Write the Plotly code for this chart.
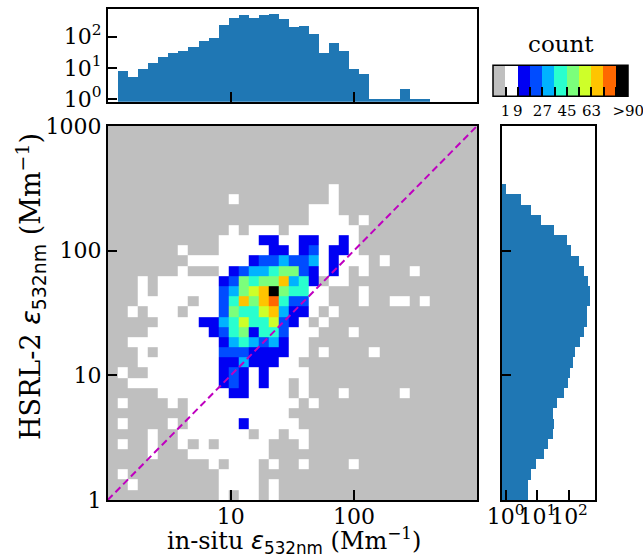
import numpy as np
import plotly.graph_objects as go

W, H = 643, 556

# ---------------- data ----------------
N_BINS = 37            # log-spaced bins per axis
BIN_WIDTH_DEX = 0.0817 # bin width in decades

# 2-D histogram, one character per cell (colour class),
# rows listed from the top (largest HSRL-2 value) down, columns left -> right.
GRID_ROWS_TOP_DOWN = [
    ".........." ".........." ".........." ".......",  # k=36
    ".........." ".........." ".........." ".......",  # k=35
    ".........." ".........." ".........." ".......",  # k=34
    ".........." ".........." ".........." ".......",  # k=33
    ".........." ".........." ".........." ".......",  # k=32
    ".........." ".........." ".........." ".......",  # k=31
    ".........." ".........." "..w......." ".......",  # k=30
    ".........." "..w......." "..w......." ".......",  # k=29
    ".........." ".........." "www......." ".......",  # k=28
    ".........." ".........." "wwww.w...." ".......",  # k=27
    ".........." "..w.www.ww" "wwwww....." ".......",  # k=26
    ".........." ".wwwwbbwwb" "bwwbw....." ".......",  # k=25
    ".......w.." ".wwwwwbbwb" "mwbbw....." ".......",  # k=24
    "........ww" "wwwwbmmsmm" "swbwww.w.." ".......",  # k=23
    ".......w.." ".wbmssaggm" "bwbw.w...." "w......",  # k=22
    "...w.wwwww" "wbmgaggosa" "b.ww......" ".......",  # k=21
    "...w.wwwww" "wmsgyokgaa" "ww...w...." ".......",  # k=20
    "...wwwww.w" "wmaogoramm" "ww...w..ww" ".w.....",  # k=19
    "..w.www.ww" "wmgaayosbb" "w.w......." ".......",  # k=18
    ".....wwwwb" "bsayaaymbw" ".w........" ".......",  # k=17
    "....wwwwww" "bmagbaamww" "w...w....." ".......",  # k=16
    "..wwwwwwww" "wbsasmsbww" ".........." ".......",  # k=15
    "...w.wwwww" "wmmmbbbbww" ".w....w..." ".......",  # k=14
    "...wwwwwww" "wbbsbbbww." ".........." ".......",  # k=13
    ".w..wwwwww" "wbmbwbwwww" ".........." ".......",  # k=12
    "..wwwwwwww" "wbmbwbww.w" ".........." ".......",  # k=11
    ".....wwwww" "wwbbwwww.w" "...w.....w" ".......",  # k=10
    ".w....w.ww" "wwwwwwwww." "w........." ".......",  # k=9
    "........ww" "wwwwwwww.." ".........." ".......",  # k=8
    ".w....w.ww" "wwwbwwwww." ".........." ".......",  # k=7
    "....w..www" "wwww.ww.ww" ".........." ".......",  # k=6
    ".w..w..w.w" ".wwwww...w" ".........." ".......",  # k=5
    "....w...ww" "wwwwww...." ".........." ".......",  # k=4
    ".........." "w.www.w..w" "....w....." ".......",  # k=3
    ".w........" ".wwww....." ".........." ".......",  # k=2
    "..w......." ".wwww.w..." ".........." ".......",  # k=1
    ".........." ".w.ww.w..." ".........." ".......",  # k=0
]
# estimated count represented by each colour class
CLASS_COUNT = {".": 0, "w": 3, "b": 13, "m": 22, "s": 31, "a": 40,
               "g": 49, "y": 58, "o": 67, "r": 76, "k": 88}
COUNT_BOUNDS = [1, 9, 18, 27, 36, 45, 54, 63, 72, 81]
CBAR_LABELS = ["", "1", "9", "", "27", "", "45", "", "63", "", "", ">90"]
CBAR_TITLE = "count"

# marginal histograms (counts per bin)
TOP_COUNTS = [0, 8, 5, 9, 14, 22, 29, 33, 45, 71, 91, 233, 380, 500, 380, 476,
              527, 363, 201, 216, 116, 29, 63, 34, 9, 6, 1, 1, 1, 2, 1, 1,
              0, 0, 0, 0, 0]
RIGHT_COUNTS = [5, 5, 6, 9, 16, 21, 30, 32, 30, 42, 69, 90, 102, 130, 153, 220,
                282, 360, 360, 456, 456, 385, 295, 195, 115, 84, 34, 13, 6, 3,
                1, 0, 0, 0, 0, 0, 0]

MAIN_X_TICKS = [10, 100]
MAIN_Y_TICKS = [1, 10, 100, 1000]
HIST_TICKS = [1, 10, 100]
HIST_TICK_TEXT = ["10<sup>0</sup>", "10<sup>1</sup>", "10<sup>2</sup>"]

# ---------------- style ----------------
LEVEL_COLORS = ["#bfbfbf", "#ffffff", "#0000f3", "#004cff", "#00b3ff", "#29ffce",
                "#7bff7b", "#ceff29", "#ffc400", "#ff6800", "#000000"]
BAR_COLOR = "#1f77b4"
SERIF = "DejaVu Serif"
SANS = "DejaVu Sans"

for r in GRID_ROWS_TOP_DOWN:
    assert len(r) == N_BINS, (len(r), r)
assert len(GRID_ROWS_TOP_DOWN) == N_BINS

edges = 10 ** (np.arange(N_BINS + 1) * BIN_WIDTH_DEX)
centers = (edges[:-1] + edges[1:]) / 2
widths = np.diff(edges)

counts = np.array([[CLASS_COUNT[ch] for ch in row] for row in GRID_ROWS_TOP_DOWN[::-1]])
level = np.digitize(counts, COUNT_BOUNDS)  # 0..10
nlev = len(LEVEL_COLORS)

colorscale = []
for i, c in enumerate(LEVEL_COLORS):
    colorscale.append([i / nlev, c])
    colorscale.append([(i + 1) / nlev, c])


def fx(px):
    return px / W


def fy(py):
    return 1 - py / H


fig = go.Figure()

fig.add_trace(go.Heatmap(
    x=edges, y=edges, z=level + 0.5, zmin=0, zmax=nlev,
    colorscale=colorscale, xaxis="x", yaxis="y", hoverinfo="skip",
    colorbar=dict(
        orientation="h", x=fx(560.8), xanchor="center", y=fy(98), yanchor="middle",
        len=135 / W, lenmode="fraction", thickness=31, thicknessmode="pixels",
        outlinecolor="black", outlinewidth=1.5, xpad=0, ypad=0,
        tickmode="array", tickvals=list(range(nlev)) + [nlev - 0.001],
        ticktext=CBAR_LABELS, ticklabeloverflow="allow",
        ticks="inside", ticklen=10, tickwidth=2, tickcolor="black", tickangle=0,
        tickfont=dict(family=SERIF, size=15, color="black"),
    ),
))

fig.add_trace(go.Scatter(
    x=[MAIN_Y_TICKS[0], MAIN_Y_TICKS[-1]], y=[MAIN_Y_TICKS[0], MAIN_Y_TICKS[-1]],
    mode="lines", line=dict(color="#bf00bf", width=2, dash="7px,4px"),
    xaxis="x", yaxis="y", hoverinfo="skip", showlegend=False,
))

top_mask = np.array(TOP_COUNTS) > 0
fig.add_trace(go.Bar(
    x=centers[top_mask], y=np.array(TOP_COUNTS)[top_mask], width=widths[top_mask],
    marker=dict(color=BAR_COLOR, line=dict(width=0)), xaxis="x2", yaxis="y2",
    hoverinfo="skip", showlegend=False,
))

right_mask = np.array(RIGHT_COUNTS) > 0
fig.add_trace(go.Bar(
    y=centers[right_mask], x=np.array(RIGHT_COUNTS)[right_mask], width=widths[right_mask],
    orientation="h", marker=dict(color=BAR_COLOR, line=dict(width=0)),
    xaxis="x3", yaxis="y3", hoverinfo="skip", showlegend=False,
))

axis_common = dict(showline=True, linecolor="black", linewidth=1.5, mirror=True,
                   ticks="inside", ticklen=10, tickwidth=2, tickcolor="black",
                   showgrid=False, zeroline=False, type="log", automargin=False,
                   tickangle=0)

main_x_dom = [fx(107.7), fx(477)]
main_y_dom = [fy(500), fy(126)]

fig.update_layout(
    width=W, height=H, margin=dict(l=0, r=0, t=0, b=0, pad=0, autoexpand=False),
    paper_bgcolor="white", plot_bgcolor="white", showlegend=False,
    bargap=0, font=dict(family=SERIF, color="black"),
    xaxis=dict(axis_common, domain=main_x_dom, anchor="y", range=[0, 3],
               tickmode="array", tickvals=MAIN_X_TICKS,
               ticktext=[str(v) for v in MAIN_X_TICKS], ticklabelstandoff=-4,
               tickfont=dict(family=SERIF, size=22)),
    yaxis=dict(axis_common, domain=main_y_dom, anchor="x", range=[0, 3],
               tickmode="array", tickvals=MAIN_Y_TICKS,
               ticktext=[str(v) for v in MAIN_Y_TICKS],
               tickfont=dict(family=SERIF, size=22)),
    xaxis2=dict(axis_common, domain=main_x_dom, anchor="y2", range=[0, 3],
                tickmode="array", tickvals=MAIN_X_TICKS, showticklabels=False),
    yaxis2=dict(axis_common, domain=[fy(101.7), fy(9.3)], anchor="x2",
                range=[-0.086, 2.877], tickmode="array", tickvals=HIST_TICKS,
                ticktext=HIST_TICK_TEXT, tickfont=dict(family=SERIF, size=22)),
    xaxis3=dict(axis_common, domain=[fx(501.7), fx(595)], anchor="y3",
                range=[-0.126, 2.82], tickmode="array", tickvals=HIST_TICKS,
                ticktext=HIST_TICK_TEXT, ticklabelstandoff=-4,
                tickfont=dict(family=SERIF, size=22)),
    yaxis3=dict(axis_common, domain=main_y_dom, anchor="x3", range=[0, 3],
                tickmode="array", tickvals=[10, 100, 1000], showticklabels=False),
)

fig.add_annotation(
    text=CBAR_TITLE, xref="paper", yref="paper", x=fx(560.8), y=fy(44),
    xanchor="center", yanchor="middle", showarrow=False,
    font=dict(family=SERIF, size=23, color="black"),
)

eps = f"<span style='font-family:{SANS}'><i>ε</i><sub>532nm</sub></span>"
fig.add_annotation(
    text=f"in-situ {eps} (Mm<sup>−1</sup>)", xref="paper", yref="paper",
    x=fx(294), y=fy(540), xanchor="center", yanchor="middle", showarrow=False,
    font=dict(family=SERIF, size=24, color="black"),
)
fig.add_annotation(
    text=f"HSRL-2 {eps} (Mm<sup>−1</sup>)", xref="paper", yref="paper",
    x=fx(30), y=fy(287), xanchor="center", yanchor="middle", textangle=-90,
    showarrow=False, font=dict(family=SERIF, size=27, color="black"),
)

fig.write_html("out.html", config={"displayModeBar": False},
               post_script="document.body.style.margin='0px';")
